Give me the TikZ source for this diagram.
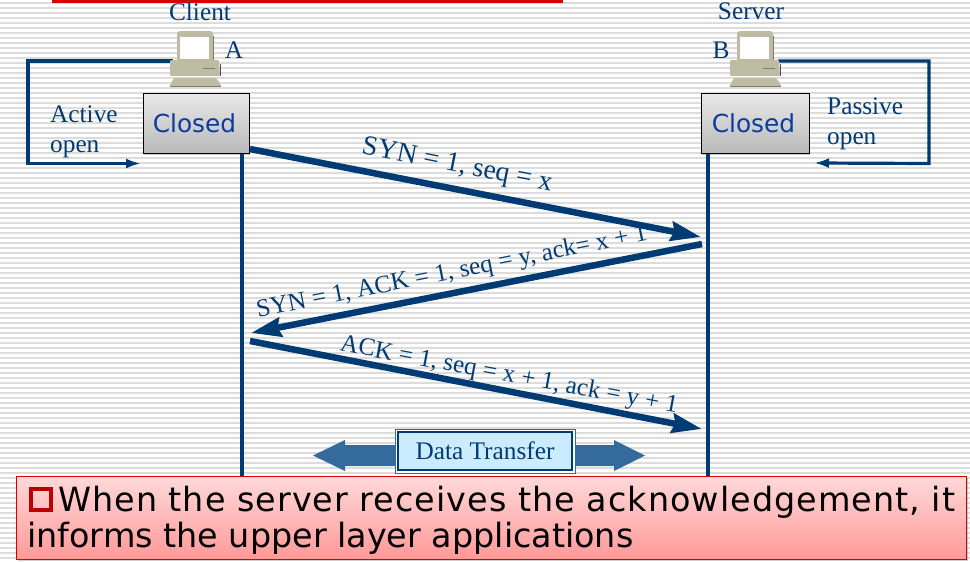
\documentclass[tikz,border=0pt]{standalone}
\usepackage{fontspec}
\setmainfont{Liberation Serif}
\newfontfamily\djreg{DejaVu Sans}
\newfontfamily\djsp[LetterSpace=3.1]{DejaVu Sans}
\usetikzlibrary{shadows,arrows.meta,calc}
\definecolor{navy}{HTML}{003C73}
\definecolor{stripe}{HTML}{DCDCDC}
\definecolor{pcbody}{HTML}{BDBBA3}
\definecolor{pcdark}{HTML}{7F7D68}
\definecolor{bluefill}{HTML}{356A9C}
\definecolor{lightb}{HTML}{CBEBFF}
\definecolor{closedtxt}{HTML}{0B3C9E}
\definecolor{bulletred}{HTML}{BE0000}
\tikzset{
 lbl/.style={text=navy,inner sep=0pt,font=\fontsize{25.3}{30}\selectfont,align=left},
 msg/.style={line width=6.5pt,draw=navy,-{Stealth[length=30pt,width=19pt,inset=3pt]}},
 life/.style={line width=3.2pt,draw=navy},
 loopline/.style={line width=3.2pt,draw=navy,-{Latex[length=15pt,width=10pt]}},
 closedbox/.style={draw=black,line width=1pt,minimum height=60pt,inner sep=0pt,top color=gray!18,bottom color=gray!55,text=closedtxt,font=\djreg\fontsize{24.8}{24.8}\selectfont,drop shadow={shadow xshift=1pt,shadow yshift=-1.5pt,opacity=.4}},
 pc/.pic={
  \fill[pcbody,rounded corners=3pt] (7,-55) rectangle (43,-24);
  \fill[pcdark] (43,-50) rectangle (44,-26);
  \fill[white] (10,-49) rectangle (39,-27);
  \fill[pcbody,rounded corners=1pt] (0,-26) -- (49,-26) -- (50,-10) -- (0,-10) -- cycle;
  \fill[black!70] (50,-22) rectangle (51,-10);
  \draw[pcdark,line width=.8pt] (33,-18) -- (45,-18);
  \fill[pcbody] (4,-8) -- (46,-8) -- (51,-1) -- (51,0) -- (0,0) -- (0,-1) -- cycle;
  \draw[pcdark,line width=1pt] (0,0) -- (51,0);
 }
}
\begin{document}
\begin{tikzpicture}[x=1pt,y=-1pt]
\useasboundingbox (0,0) rectangle (970,562);
\fill[white] (0,0) rectangle (970,562);
\foreach \yy in {2,7,...,562} \fill[stripe] (0,\yy) rectangle (970,\yy+2);
\fill[red!85!black] (52,0) rectangle (563,3);
\coordinate (lb) at (242,480);
\coordinate (rb) at (708,480);
\node[closedbox,minimum width=106pt] (ca) at (196,123.5) {\raisebox{-1pt}{\hspace*{-3pt}Closed}};
\node[closedbox,minimum width=108pt] (cb) at (755,123.5) {\raisebox{-1pt}{\hspace*{-3pt}Closed}};
\draw[life] (lb) -- (lb |- ca.south);
\draw[life] (rb) -- (rb |- cb.south);
\coordinate (pa) at (173,61);
\coordinate (pb) at (778,61);
\coordinate (ta) at (141,163.5);
\coordinate (tb) at (814,163);
\draw[loopline] (pa) -- (28,61) -- (28,163.5) -- (ta);
\draw[loopline] (pb) -- (929,61) -- (929,163.5) -- (tb);
\pic at (170,86) {pc};
\pic at (730,86) {pc};
\node[lbl] (client) at (200,12) {Client};
\node[lbl] (server) at (751,11) {Server};
\node[lbl] (A) at (234,50) {A};
\node[lbl] (B) at (721,50) {B};
\node[lbl,anchor=west] (act) at (50,132) {Active\\open};
\node[lbl,anchor=west] (pas) at (827,124) {Passive\\open};
\coordinate (m1s) at (250,149);
\coordinate (m1e) at (701,237);
\coordinate (m2s) at (702,244);
\coordinate (m2e) at (251,333);
\coordinate (m3s) at (250,341);
\coordinate (m3e) at (702,429);
\draw[msg] (m1s) -- (m1e);
\draw[msg] (m2s) -- (m2e);
\draw[msg] (m3s) -- (m3e);
\node[lbl,font=\fontsize{27.8}{30}\selectfont,rotate=-11.2] (t1) at (457,166) {SYN = 1, seq = x};
\node[lbl,font=\fontsize{25.1}{30}\selectfont,rotate=11.2] (t2) at (452,273) {SYN = 1, ACK = 1, seq = y, ack= x + 1};
\node[lbl,font=\fontsize{25.1}{30}\selectfont,rotate=-10.5] (t3) at (509,376) {ACK = 1, seq = x + 1, ack = y + 1};
\fill[bluefill] (395,445) -- (345,445) -- (345,440) -- (313,455.5) -- (345,471) -- (345,466) -- (395,466) -- cycle;
\fill[bluefill] (575,445) -- (614,445) -- (614,440) -- (645,455.5) -- (614,471) -- (614,466) -- (575,466) -- cycle;
\node[inner sep=0pt,minimum width=180pt,minimum height=44pt,fill=white,draw=bluefill,line width=1pt] (dto) at (485,451) {};
\node[inner sep=0pt,minimum width=174pt,minimum height=38pt,fill=lightb,draw=navy,line width=1.6pt,text=navy,font=\fontsize{25.3}{30}\selectfont] (dt) at (485,451) {Data Transfer};
\node[draw=red!85!black,line width=1pt,top color=red!15,bottom color=red!40,minimum width=950pt,minimum height=83pt,inner sep=0pt,drop shadow={shadow xshift=2pt,shadow yshift=-2pt,opacity=.4}] (note) at (491,517.5) {};
\draw[bulletred,line width=4pt] (31,489) rectangle (51,510);
\node[anchor=base west,inner sep=0pt,font=\djsp\fontsize{33.4}{33.4}\selectfont] (l1) at (58,511) {When the server receives the acknowledgement, it};
\node[anchor=base west,inner sep=0pt,font=\djreg\fontsize{33.4}{33.4}\selectfont] (l2) at (27,547) {informs the upper layer applications};
\end{tikzpicture}
\end{document}
